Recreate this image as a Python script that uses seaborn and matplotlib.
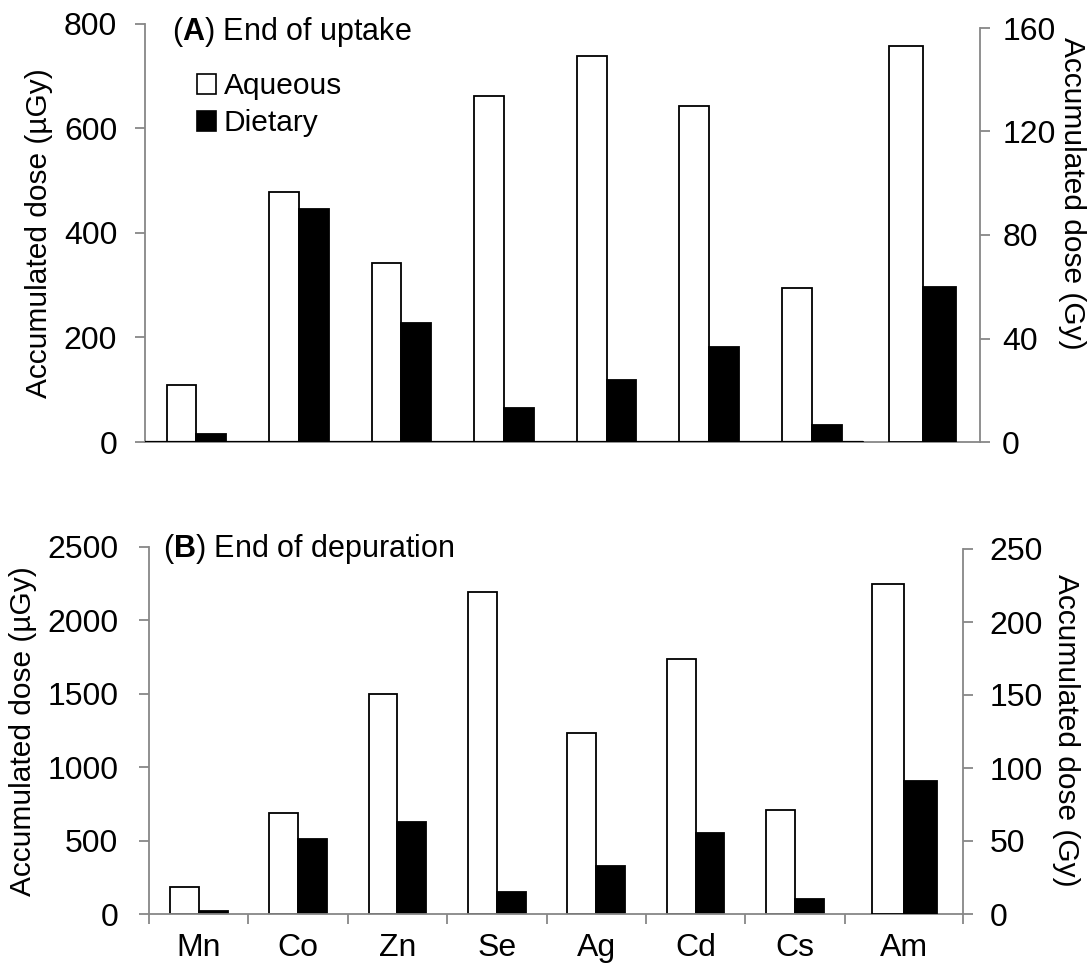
import numpy as np
import pandas as pd
import matplotlib
matplotlib.use("Agg")
import matplotlib.pyplot as plt
import seaborn as sns
from matplotlib.patches import Patch

# ---------------- data ----------------
elements = ["Mn", "Co", "Zn", "Se", "Ag", "Cd", "Cs"]   # left axis (µGy)
sec_elements = ["Am"]                                      # right axis (Gy)
sources = ["Aqueous", "Dietary"]

# (A) End of uptake
uptake_aqueous = [110, 478, 342, 662, 739, 644, 294]
uptake_dietary = [15, 446, 228, 66, 119, 181, 33]
uptake_am_aqueous = [153]
uptake_am_dietary = [60]

# (B) End of depuration
depur_aqueous = [186, 690, 1498, 2192, 1230, 1734, 708]
depur_dietary = [22, 511, 628, 152, 327, 549, 102]
depur_am_aqueous = [226]
depur_am_dietary = [91]

left_ticks_A = [0, 200, 400, 600, 800]
right_ticks_A = [0, 40, 80, 120, 160]
left_ticks_B = [0, 500, 1000, 1500, 2000, 2500]
right_ticks_B = [0, 50, 100, 150, 200, 250]

left_label = "Accumulated dose (µGy)"
right_label = "Accumulated dose (Gy)"

# ---------------- style ----------------
sns.set_theme(style="white")
plt.rcParams["font.family"] = ["Liberation Sans", "DejaVu Sans"]
plt.rcParams["mathtext.fontset"] = "custom"
plt.rcParams["mathtext.rm"] = "Liberation Sans"
plt.rcParams["mathtext.bf"] = "Liberation Sans:bold"
plt.rcParams["text.color"] = "black"
plt.rcParams["axes.labelcolor"] = "black"
plt.rcParams["xtick.labelcolor"] = "black"
plt.rcParams["ytick.labelcolor"] = "black"

GREY = "#878787"
TICK_FS = 23
LABEL_FS = 21.5
LEGEND_FS = 21.5
TITLE_FS = 22
FIG_W, FIG_H = 1088, 968

fig = plt.figure(figsize=(FIG_W / 100, FIG_H / 100), dpi=100)
fig.patch.set_facecolor("white")


def frac_rect(left, right, top, bottom):
    return [left / FIG_W, (FIG_H - bottom) / FIG_H, (right - left) / FIG_W, (bottom - top) / FIG_H]


def panel(rect_main, rect_sec, aq, di, am_aq, am_di, lticks, rticks, xlim_right,
          am_offset, title, title_xy, ylab_xy, rlab_xy, show_x, lpad, rpad, black_base):
    ax = fig.add_axes(rect_main)
    df = pd.DataFrame({
        "element": elements * 2,
        "source": [sources[0]] * len(elements) + [sources[1]] * len(elements),
        "dose": list(aq) + list(di),
    })
    sns.barplot(data=df, x="element", y="dose", hue="source", order=elements,
                hue_order=sources, palette=["white", "black"], edgecolor="black",
                linewidth=1.3, width=0.58, saturation=1, errorbar=None,
                legend=False, ax=ax)
    xlim = (-0.5, xlim_right)
    ax.set_xlim(*xlim)
    ax.set_ylim(lticks[0], lticks[-1])
    ax.set_yticks(lticks)
    ax.set_yticklabels([str(t) for t in lticks])
    ax.set_xlabel("")
    ax.set_ylabel(left_label, fontsize=LABEL_FS, color="black")
    ax.yaxis.set_label_coords(*ylab_xy)
    for s in ["top", "right"]:
        ax.spines[s].set_visible(False)
    for s in ["left", "bottom"]:
        ax.spines[s].set_color(GREY)
        ax.spines[s].set_linewidth(1.3)
    ax.tick_params(axis="y", direction="out", length=7, width=1.3, color=GREY,
                   labelsize=TICK_FS, labelcolor="black", pad=lpad, left=True)
    if black_base:
        ax.axhline(0, xmin=0, xmax=len(elements) / (xlim[1] - xlim[0]),
                   color="black", lw=1.6, zorder=3)
    if show_x:
        bounds = list(np.arange(len(elements) + 1) - 0.5) + [xlim_right]
        ax.set_xticks(bounds)
        ax.set_xticklabels([""] * len(bounds))
        centers = list(range(len(elements))) + [len(elements) + am_offset]
        ax.set_xticks(centers, minor=True)
        ax.set_xticklabels(elements + sec_elements, minor=True, fontsize=TICK_FS)
        ax.tick_params(axis="x", which="major", direction="out", length=7,
                       width=1.3, color=GREY, bottom=True)
        ax.tick_params(axis="x", which="minor", length=0, pad=14,
                       labelsize=TICK_FS, labelcolor="black")
    else:
        ax.set_xticks([])

    ax.text(title_xy[0], title_xy[1], title, transform=ax.transAxes,
            fontsize=TITLE_FS, ha="left", va="center", color="black")

    # secondary axis (Am) on the right
    ax2 = fig.add_axes(rect_sec)
    ax2.set_facecolor("none")
    df2 = pd.DataFrame({
        "element": sec_elements * 2,
        "source": sources,
        "dose": list(am_aq) + list(am_di),
    })
    sns.barplot(data=df2, x="element", y="dose", hue="source", hue_order=sources,
                palette=["white", "black"], edgecolor="black", linewidth=1.3,
                width=0.66, saturation=1, errorbar=None, legend=False, ax=ax2)
    shift = len(elements) + am_offset
    ax2.set_xlim(xlim[0] - shift, xlim[1] - shift)
    ax2.set_ylim(rticks[0], rticks[-1])
    ax2.set_yticks(rticks)
    ax2.set_yticklabels([str(t) for t in rticks])
    ax2.set_xticks([])
    ax2.set_xlabel("")
    ax2.yaxis.tick_right()
    ax2.yaxis.set_label_position("right")
    ax2.set_ylabel(right_label, fontsize=LABEL_FS, rotation=270, va="center",
                   color="black")
    ax2.yaxis.set_label_coords(*rlab_xy)
    for s in ["top", "left", "bottom"]:
        ax2.spines[s].set_visible(False)
    ax2.spines["right"].set_color(GREY)
    ax2.spines["right"].set_linewidth(1.3)
    ax2.tick_params(axis="y", direction="out", length=7, width=1.3, color=GREY,
                    labelsize=TICK_FS, labelcolor="black", pad=rpad,
                    right=True, left=False)
    return ax, ax2


# Panel A
axA, axA2 = panel(frac_rect(145, 980, 24, 442), frac_rect(145, 980, 28, 442),
                  uptake_aqueous, uptake_dietary, uptake_am_aqueous, uptake_am_dietary,
                  left_ticks_A, right_ticks_A, 7.64, 0.08,
                  r"($\bf{A}$) End of uptake", (0.032, 0.982),
                  (-0.110, 0.5), (1.11, 0.60), False, 13, 9, True)
handles = [Patch(facecolor="white", edgecolor="black", linewidth=1.2),
           Patch(facecolor="black", edgecolor="black", linewidth=1.2)]
leg = axA.legend(handles, sources, loc="upper left", bbox_to_anchor=(0.062, 0.885),
                 frameon=False, fontsize=LEGEND_FS, handlelength=0.65, handleheight=0.65,
                 handletextpad=0.25, labelspacing=0.3, borderpad=0, borderaxespad=0)
for t in leg.get_texts():
    t.set_color("black")

# Panel B
axB, axB2 = panel(frac_rect(149, 963, 547, 914), frac_rect(149, 963, 549, 914),
                  depur_aqueous, depur_dietary, depur_am_aqueous, depur_am_dietary,
                  left_ticks_B, right_ticks_B, 7.69, 0.10,
                  r"($\bf{B}$) End of depuration", (0.017, 0.995),
                  (-0.138, 0.497), (1.127, 0.504), True, 15, 12, False)

fig.savefig("out.png", dpi=100, facecolor="white")
